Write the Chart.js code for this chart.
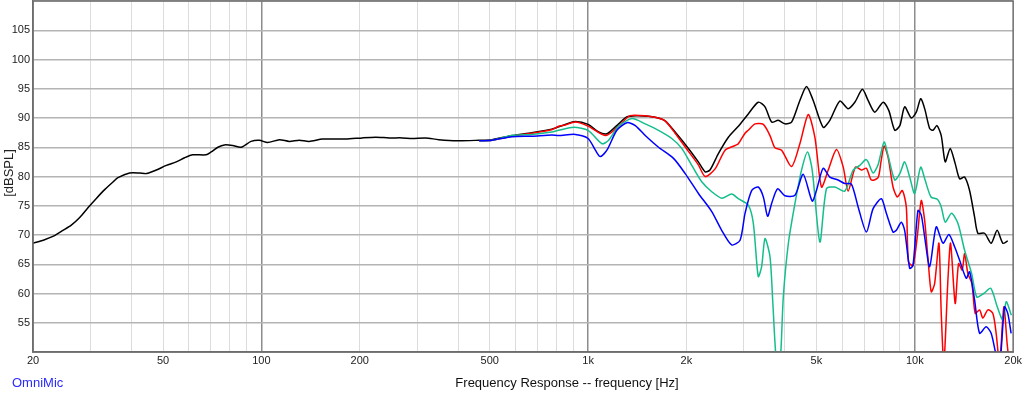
<!DOCTYPE html>
<html>
<head>
<meta charset="utf-8">
<script src="https://cdn.jsdelivr.net/npm/chart.js@4.4.1/dist/chart.umd.min.js"></script>
<style>
  html, body { margin: 0; padding: 0; background: #fff; }
  #wrap { width: 1024px; height: 396px; position: relative; }
</style>
</head>
<body>
<div id="wrap"><canvas id="fr"></canvas></div>
<script>
// frequency axis: grid lines and labelled ticks
const xGridValues = [20, 30, 40, 50, 60, 70, 80, 90, 100, 200, 300, 400, 500, 600, 700, 800, 900,
    1000, 2000, 3000, 4000, 5000, 6000, 7000, 8000, 9000, 10000, 20000];
const xLabelValues = [20, 50, 100, 200, 500, 1000, 2000, 5000, 10000, 20000];
const xLabelText = ['20', '50', '100', '200', '500', '1k', '2k', '5k', '10k', '20k'];

// black trace (full range)
const blackFreq = [20, 21.7, 23.1, 24.7, 26.2, 27.8, 29.5, 31.3, 33.2, 35.2, 36.4, 39.5, 42.4, 44.5, 47.7,
    51.2, 54.9, 58.2, 61.7, 67.7, 70.2, 73.6, 77.1, 81.7, 86.7, 93, 98.6, 104.5, 113.5, 121.8, 130.6, 140,
    154, 181, 204, 224, 246, 270, 290, 318, 349, 398, 464, 508, 585, 673, 774, 851, 914, 1000, 1077, 1141,
    1224, 1313, 1409, 1530, 1641, 1722, 1847, 2028, 2175, 2282, 2361, 2505, 2688, 2884, 3093, 3318, 3480,
    3646, 3820, 4006, 4196, 4449, 4663, 4887, 5243, 5495, 5897, 6252, 6554, 6914, 7196, 7543, 8000, 8324,
    8683, 9000, 9311, 9757, 10106, 10424, 10720, 11105, 11366, 11690, 12050, 12394, 12835, 13295, 13716,
    14206, 14714, 15240, 15600, 16352, 17130, 17870, 18594, 19260];
const blackDb = [68.6, 69.2, 69.8, 70.8, 71.7, 73.0, 74.7, 76.3, 77.8, 79.1, 79.8, 80.6, 80.6, 80.5, 81.1,
    81.9, 82.5, 83.2, 83.7, 83.7, 84.2, 85.0, 85.4, 85.3, 85.0, 86.0, 86.2, 85.8, 86.3, 86.0, 86.2, 86.0,
    86.4, 86.4, 86.6, 86.7, 86.6, 86.6, 86.5, 86.6, 86.3, 86.1, 86.2, 86.3, 87.0, 87.5, 88.1, 88.9, 89.4,
    88.9, 87.6, 87.3, 88.7, 90.2, 90.4, 90.3, 90.0, 89.5, 87.6, 84.8, 82.5, 80.8, 81.1, 83.9, 86.7, 88.6,
    90.7, 92.7, 91.9, 89.3, 89.6, 89.0, 89.3, 93.0, 95.4, 93.0, 88.4, 89.6, 92.9, 91.6, 92.7, 94.9, 93.0,
    91.0, 92.7, 91.3, 87.9, 88.7, 91.9, 90.0, 91.0, 93.3, 91.6, 88.2, 87.9, 88.7, 87.0, 82.5, 84.8, 82.2,
    79.6, 79.9, 77.6, 73.1, 70.3, 70.3, 68.6, 70.8, 68.6, 69.0];

// red trace
const redFreq = [464, 508, 585, 673, 774, 813, 851, 914, 1000, 1129, 1225, 1346, 1530, 1641, 1722, 1847,
    2028, 2175, 2282, 2448, 2627, 2818, 2884, 3023, 3093, 3244, 3439, 3604, 3733, 3911, 4196, 4449, 4720,
    4946, 5181, 5433, 5758, 6039, 6252, 6580, 6864, 7110, 7365, 7719, 7880, 8054, 8283, 8579, 8843, 9158,
    9419, 9566, 9874, 10176, 10467, 10720, 10973, 11230, 11502, 11855, 12050, 12275, 12630, 12870, 13295,
    13615, 13965, 14206, 14540, 14955, 15306, 15787, 16158, 16738, 17338, 17746, 18177, 18734, 19168, 19536];
const redDb = [86.1, 86.2, 86.9, 87.4, 88.0, 88.6, 88.8, 89.3, 88.6, 87.0, 88.3, 90.4, 90.3, 90.0, 89.5,
    87.4, 84.3, 82.0, 80.0, 81.3, 84.5, 85.3, 85.6, 87.4, 87.9, 89.0, 88.9, 87.0, 84.9, 84.5, 81.7, 85.6,
    90.6, 86.7, 78.2, 81.1, 84.6, 81.6, 77.5, 81.6, 81.1, 81.4, 79.4, 79.8, 82.5, 85.2, 83.3, 78.2, 76.5,
    77.6, 74.8, 65.4, 64.8, 69.7, 75.9, 72.5, 66.0, 60.3, 61.7, 68.6, 56.6, 48.0, 62.3, 68.6, 58.3, 65.1,
    64.0, 66.8, 63.4, 61.7, 56.6, 57.2, 55.8, 57.2, 56.6, 53.2, 48.0, 57.7, 51.5, 47.0];

// green trace
const greenFreq = [464, 508, 585, 673, 774, 813, 905, 1000, 1103, 1156, 1240, 1362, 1496, 1643, 1804, 1935,
    2077, 2228, 2391, 2564, 2751, 2884, 3093, 3205, 3318, 3398, 3480, 3604, 3678, 3776, 3868, 3959, 4101,
    4298, 4502, 4696, 4853, 5123, 5366, 5692, 6108, 6476, 6788, 7080, 7196, 7454, 7719, 8054, 8283, 8683,
    9000, 9311, 9648, 9990, 10424, 10753, 11210, 11720, 12050, 12394, 12960, 13550, 14206, 14930, 15480,
    16260, 17080, 17890, 18594, 19050, 19750];
const greenDb = [86.1, 86.2, 87.0, 87.2, 87.6, 87.9, 88.4, 87.9, 85.6, 86.2, 88.6, 89.9, 89.0, 87.9, 86.5,
    84.8, 81.9, 79.1, 77.4, 76.3, 77.0, 76.2, 75.1, 72.0, 62.9, 64.6, 69.4, 66.3, 58.3, 48.0, 48.0, 59.4,
    68.5, 75.4, 81.1, 84.2, 81.1, 68.8, 77.9, 78.2, 77.5, 81.1, 81.9, 82.9, 82.5, 80.6, 82.0, 85.9, 83.6,
    79.4, 80.5, 82.5, 79.9, 77.1, 81.6, 79.4, 76.5, 76.1, 74.8, 72.2, 73.7, 72.0, 67.4, 63.4, 59.4, 60.0,
    60.9, 57.7, 55.5, 58.6, 56.3];

// blue trace
const blueFreq = [464, 508, 585, 673, 774, 813, 914, 1000, 1053, 1090, 1142, 1225, 1315, 1395, 1496, 1643,
    1826, 1983, 2177, 2391, 2564, 2751, 2919, 3023, 3167, 3318, 3439, 3544, 3646, 3802, 4006, 4298, 4553,
    4853, 5000, 5243, 5495, 5821, 6108, 6398, 6708, 7110, 7454, 7902, 8185, 8579, 8781, 9094, 9311, 9648,
    9874, 10228, 10467, 10720, 11105, 11632, 12198, 12720, 13240, 13716, 14370, 14714, 15240, 15787, 16537,
    17130, 17746, 18210, 18824, 19260, 19716];
const blueDb = [86.1, 86.2, 86.8, 86.9, 87.1, 87.0, 87.2, 86.5, 84.5, 83.4, 84.5, 87.9, 89.2, 88.7, 87.0,
    85.0, 83.1, 80.5, 77.1, 74.0, 70.8, 68.3, 69.1, 73.7, 77.6, 78.2, 76.5, 73.2, 75.4, 77.9, 76.7, 76.8,
    80.4, 75.8, 77.6, 81.4, 79.9, 79.4, 78.8, 78.7, 74.8, 70.5, 74.5, 76.2, 73.7, 70.5, 70.8, 72.2, 70.8,
    64.3, 64.8, 74.2, 73.4, 69.7, 64.6, 71.4, 68.6, 70.1, 68.0, 65.7, 62.6, 63.7, 58.9, 53.2, 54.3, 53.2,
    49.5, 48.0, 57.7, 56.6, 53.2];

const pts = (f, d) => f.map((v, i) => ({ x: v, y: d[i] }));

function trace(label, f, d, color) {
    return {
        label: label,
        data: pts(f, d),
        borderColor: color,
        borderWidth: 1.5,
        pointRadius: 0,
        tension: 0.25,
        fill: false
    };
}

// frame and free text (titles, brand)
const framePlugin = {
    id: 'frame',
    afterDraw(chart) {
        const c = chart.ctx, a = chart.chartArea;
        c.save();
        c.strokeStyle = '#6e6e6e';
        c.lineWidth = 1.5;
        c.strokeRect(a.left, a.top, a.right - a.left, a.bottom - a.top);
        c.fillStyle = '#111';
        c.font = '13px "Liberation Sans", Arial, sans-serif';
        c.textAlign = 'center';
        c.textBaseline = 'middle';
        c.fillText('Frequency Response -- frequency [Hz]', 567, 383);
        c.fillStyle = '#2a2aff';
        c.textAlign = 'left';
        c.fillText('OmniMic', 12, 383);
        c.fillStyle = '#222';
        c.translate(9, 173);
        c.rotate(-Math.PI / 2);
        c.textAlign = 'center';
        c.fillText('[dBSPL]', 0, 0);
        c.restore();
    }
};

Chart.defaults.font.family = '"Liberation Sans", Arial, sans-serif';
Chart.defaults.font.size = 11;
Chart.defaults.color = '#222';

new Chart(document.getElementById('fr'), {
    type: 'line',
    data: {
        datasets: [
            trace('blue', blueFreq, blueDb, '#0000ff'),
            trace('green', greenFreq, greenDb, '#14be8c'),
            trace('red', redFreq, redDb, '#ff0000'),
            trace('black', blackFreq, blackDb, '#000000')
        ]
    },
    options: {
        responsive: true,
        maintainAspectRatio: false,
        animation: false,
        layout: { padding: { top: 1, right: 0, left: 0, bottom: 0 } },
        plugins: { legend: { display: false }, tooltip: { enabled: false } },
        scales: {
            x: {
                type: 'logarithmic',
                min: 20,
                max: 20000,
                afterBuildTicks: s => { s.ticks = xGridValues.map(v => ({ value: v })); },
                afterFit: s => { s.height = 44; },
                ticks: {
                    autoSkip: false,
                    maxRotation: 0,
                    padding: 2,
                    callback: v => {
                        const i = xLabelValues.indexOf(v);
                        return i >= 0 ? xLabelText[i] : '';
                    }
                },
                grid: {
                    drawTicks: false,
                    color: ctx => [100, 1000, 10000].includes(ctx.tick && ctx.tick.value) ? '#8c8c8c' : '#dcdcdc',
                    lineWidth: ctx => [100, 1000, 10000].includes(ctx.tick && ctx.tick.value) ? 1.5 : 1
                },
                border: { color: '#6e6e6e', width: 1.5 }
            },
            y: {
                min: 50,
                max: 110,
                afterFit: s => { s.width = 33; s.paddingTop = 0; s.paddingBottom = 0; },
                ticks: {
                    stepSize: 5,
                    padding: 3,
                    callback: v => (v === 50 || v === 110) ? '' : v
                },
                grid: { drawTicks: false, color: '#b4b4b4', lineWidth: 1.5 },
                border: { color: '#6e6e6e', width: 1.5 }
            }
        }
    },
    plugins: [framePlugin]
});
</script>
</body>
</html>
